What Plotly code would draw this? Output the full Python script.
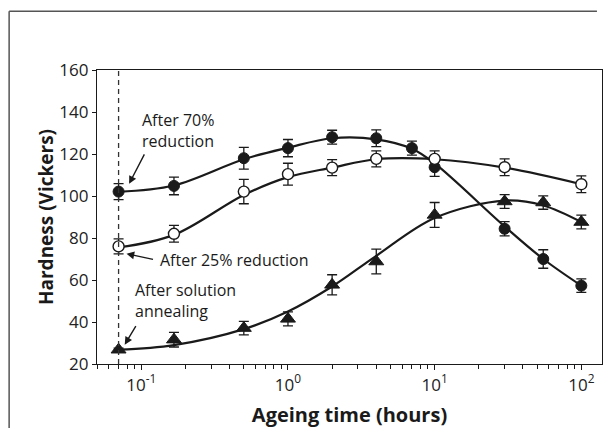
import math
import plotly.graph_objects as go

# ---- data ----
t70 = [0.07, 0.167, 0.5, 1, 2, 4, 7, 10, 30, 55, 100]
h70 = [102.1, 104.8, 118.0, 122.8, 128.0, 127.5, 122.8, 113.7, 84.4, 70.0, 57.3]
e70 = [3.8, 4.2, 5.2, 4.1, 3.3, 4.0, 3.3, 4.4, 3.4, 4.4, 3.2]
fit70 = [102.0, 105.0, 117.5, 123.0, 127.5, 127.0, 122.5, 115.5, 85.5, 70.0, 57.3]

t25 = [0.07, 0.167, 0.5, 1, 2, 4, 10, 30, 100]
h25 = [76.0, 82.0, 102.1, 110.4, 113.5, 117.7, 117.7, 113.7, 105.6]
e25 = [3.6, 4.0, 5.8, 5.2, 3.8, 3.8, 3.8, 4.0, 4.0]
fit25 = [75.5, 81.5, 100.5, 109.0, 113.5, 117.5, 117.5, 113.5, 105.6]

tsa = [0.07, 0.167, 0.5, 1, 2, 4, 10, 30, 55, 100]
hsa = [26.8, 31.6, 37.1, 41.5, 57.7, 68.8, 91.0, 97.4, 96.9, 87.6]
esa = [0.8, 3.5, 3.2, 3.3, 4.8, 5.9, 5.9, 3.3, 3.2, 3.3]
fitsa = [26.8, 29.0, 36.6, 45.0, 56.9, 71.5, 89.5, 97.8, 95.5, 87.6]

x_major = [0.1, 1, 10, 100]
x_major_text = ["10<sup>-1</sup>", "10<sup>0</sup>", "10<sup>1</sup>", "10<sup>2</sup>"]
x_minor = [0.05, 0.06, 0.07, 0.08, 0.09, 0.2, 0.3, 0.4, 0.5, 0.6, 0.7, 0.8, 0.9,
           2, 3, 4, 5, 6, 7, 8, 9, 20, 30, 40, 50, 60, 70, 80, 90]
y_ticks = [20, 40, 60, 80, 100, 120, 140, 160]

start_time = 0.07

FONT = "Open Sans"
INK = "#1a1a1a"

fig = go.Figure()

# fitted curves
for t, f in [(t70, fit70), (t25, fit25), (tsa, fitsa)]:
    fig.add_trace(go.Scatter(x=t, y=f, mode="lines",
                             line=dict(color=INK, width=2.2, shape="spline", smoothing=1.0),
                             hoverinfo="skip", showlegend=False))

def err(e):
    return dict(type="data", array=e, visible=True, color=INK, thickness=1.3, width=5)

fig.add_trace(go.Scatter(x=t70, y=h70, mode="markers", error_y=err(e70),
                         marker=dict(symbol="circle", size=11, color=INK,
                                     line=dict(color=INK, width=1)),
                         name="After 70% reduction", showlegend=False))
fig.add_trace(go.Scatter(x=t25, y=h25, mode="markers", error_y=err(e25),
                         marker=dict(symbol="circle", size=11, color="white",
                                     line=dict(color=INK, width=1.4)),
                         name="After 25% reduction", showlegend=False))
fig.add_trace(go.Scatter(x=tsa, y=hsa, mode="markers", error_y=err(esa),
                         marker=dict(symbol="triangle-up", size=13, color=INK,
                                     line=dict(color=INK, width=1)),
                         name="After solution annealing", showlegend=False))

# dashed line at start time
fig.add_shape(type="line", xref="x", yref="paper", x0=start_time, x1=start_time,
              y0=0, y1=1, line=dict(color="#333", width=1.3, dash="5px,4px"))

# outer frame: its left and top edges
fig.add_shape(type="line", xref="paper", yref="paper", x0=-0.174, x1=-0.174,
              y0=-0.22, y1=1.2, line=dict(color="#555", width=1.5), layer="below")
fig.add_shape(type="line", xref="paper", yref="paper", x0=-0.174, x1=0.99,
              y0=1.2, y1=1.2, line=dict(color="#555", width=1.5), layer="below")

def lx(v):
    return math.log10(v)

ann_font = dict(family=FONT, size=16, color=INK)
# arrows
for (xt, yt, ax, ay) in [(lx(0.0826), 105.8, 16, -31), (lx(0.0793), 72.5, 28, 6),
                         (lx(0.0771), 29.2, 12, -20)]:
    fig.add_annotation(x=xt, y=yt, xref="x", yref="y", text="", showarrow=True,
                       ax=ax, ay=ay, arrowhead=2, arrowsize=1.1, arrowwidth=1.4,
                       arrowcolor=INK)
# labels
fig.add_annotation(x=lx(0.0977), y=131.1, xref="x", yref="y", text="After 70%<br>reduction",
                   showarrow=False, xanchor="left", yanchor="middle", align="left", font=ann_font)
fig.add_annotation(x=lx(0.130), y=69.6, xref="x", yref="y", text="After 25% reduction",
                   showarrow=False, xanchor="left", yanchor="middle", align="left", font=ann_font)
fig.add_annotation(x=lx(0.0871), y=50.2, xref="x", yref="y", text="After solution<br>annealing",
                   showarrow=False, xanchor="left", yanchor="middle", align="left", font=ann_font)

fig.update_layout(
    width=596, height=420,
    margin=dict(l=89, r=2, t=62, b=64, autoexpand=False),
    paper_bgcolor="white", plot_bgcolor="white",
    font=dict(family=FONT, color=INK),
    xaxis=dict(type="log", range=[-1.302, 2.141], automargin=False,
               tickvals=x_major, ticktext=x_major_text, ticks="outside", ticklen=5,
               tickwidth=1.2, tickcolor=INK,
               minor=dict(tickvals=x_minor, ticks="outside", ticklen=4, tickwidth=1.1, tickcolor=INK),
               showline=True, linecolor=INK, linewidth=1.3, mirror=True,
               showgrid=False, zeroline=False,
               tickfont=dict(family=FONT, size=17, color="#222"),
               title=dict(text="<b>Ageing time (hours)</b>", font=dict(family=FONT, size=20, color=INK),
                          standoff=14)),
    yaxis=dict(range=[20, 160], tickvals=y_ticks, ticks="outside", ticklen=4, automargin=False,
               tickwidth=1.2, tickcolor=INK,
               showline=True, linecolor=INK, linewidth=1.3, mirror=True,
               showgrid=False, zeroline=False,
               tickfont=dict(family=FONT, size=17, color="#222"),
               title=dict(text="<b>Hardness (Vickers)</b>", font=dict(family=FONT, size=19, color=INK),
                          standoff=0)),
)

fig.write_html("out.html")
